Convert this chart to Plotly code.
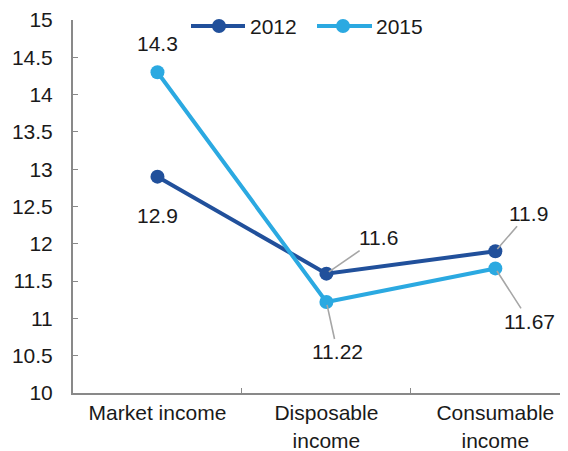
import plotly.graph_objects as go

categories = ["Market income", "Disposable<br>income", "Consumable<br>income"]
series_names = ["2012", "2015"]
values_2012 = [12.9, 11.6, 11.9]
values_2015 = [14.3, 11.22, 11.67]
label_2012 = ["12.9", "11.6", "11.9"]
label_2015 = ["14.3", "11.22", "11.67"]
y_ticks = [10, 10.5, 11, 11.5, 12, 12.5, 13, 13.5, 14, 14.5, 15]
y_tick_text = ["10", "10.5", "11", "11.5", "12", "12.5", "13", "13.5", "14", "14.5", "15"]

C2012 = "#21509B"
C2015 = "#2BA9E1"
GRAY = "#A6A6A6"
AXIS = "#898989"
FONT = "Liberation Sans, Arial, sans-serif"
FS = 21

fig = go.Figure()
for name, vals, col in [(series_names[0], values_2012, C2012), (series_names[1], values_2015, C2015)]:
    fig.add_trace(go.Scatter(
        x=categories, y=vals, name=name, mode="lines+markers",
        line=dict(color=col, width=4),
        marker=dict(color=col, size=14),
        showlegend=False, cliponaxis=False,
    ))

ann = []
ann.append(dict(x=categories[0], y=values_2015[0], text=label_2015[0], showarrow=False, yshift=29))
ann.append(dict(x=categories[0], y=values_2012[0], text=label_2012[0], showarrow=False, yshift=-39))
leader = [
    (categories[1], values_2012[1], label_2012[1], 52, -36),
    (categories[1], values_2015[1], label_2015[1], 11, 50),
    (categories[2], values_2012[2], label_2012[2], 33, -38),
    (categories[2], values_2015[2], label_2015[2], 34, 53),
]
for cx, cy, t, ax, ay in leader:
    ann.append(dict(x=cx, y=cy, text=t, showarrow=True, ax=ax, ay=ay,
                    arrowhead=0, arrowwidth=1.6, arrowcolor=GRAY, standoff=3))
for a in ann:
    a["font"] = dict(family=FONT, size=FS, color="#1a1a1a")

shapes = []
leg_y = (393 - 26) / 373
px = lambda v: (v - 73) / 495
for (x0p, x1p, mxp, txp, col, name) in [
    (191, 245, 219, 248, C2012, series_names[0]),
    (317, 372, 343, 374, C2015, series_names[1]),
]:
    shapes.append(dict(type="line", xref="paper", yref="paper", x0=px(x0p), x1=px(x1p),
                       y0=leg_y, y1=leg_y, line=dict(color=col, width=4)))
    shapes.append(dict(type="circle", xref="paper", yref="paper",
                       xsizemode="pixel", ysizemode="pixel",
                       xanchor=px(mxp), yanchor=leg_y, x0=-7, x1=7, y0=-7, y1=7,
                       fillcolor=col, line=dict(color=col, width=0)))
    ann.append(dict(xref="paper", yref="paper", x=px(txp), y=leg_y, text=name,
                    showarrow=False, xanchor="left", yanchor="middle",
                    font=dict(family=FONT, size=FS, color="#1a1a1a")))

fig.update_layout(
    width=560, height=443,
    margin=dict(l=65, r=0, t=12, b=58, autoexpand=False),
    paper_bgcolor="white", plot_bgcolor="white",
    font=dict(family=FONT, size=FS, color="#1a1a1a"),
    annotations=ann, shapes=shapes,
    xaxis=dict(
        type="category", range=[-0.5, 2.43], automargin=False,
        showline=True, linecolor=AXIS, linewidth=2,
        ticks="inside", tickson="boundaries", ticklen=5, tickcolor=AXIS, tickwidth=1,
        showgrid=False, zeroline=False,
        tickfont=dict(family=FONT, size=FS, color="#1a1a1a"),
    ),
    yaxis=dict(
        range=[10, 15], tickvals=y_ticks, ticktext=y_tick_text, automargin=False,
        showline=True, linecolor=AXIS, linewidth=2,
        ticks="inside", ticklen=5, tickcolor=AXIS, tickwidth=1,
        showgrid=False, zeroline=False, ticklabelstandoff=14,
        tickfont=dict(family=FONT, size=FS, color="#1a1a1a"),
    ),
)

fig.write_html("out.html")
